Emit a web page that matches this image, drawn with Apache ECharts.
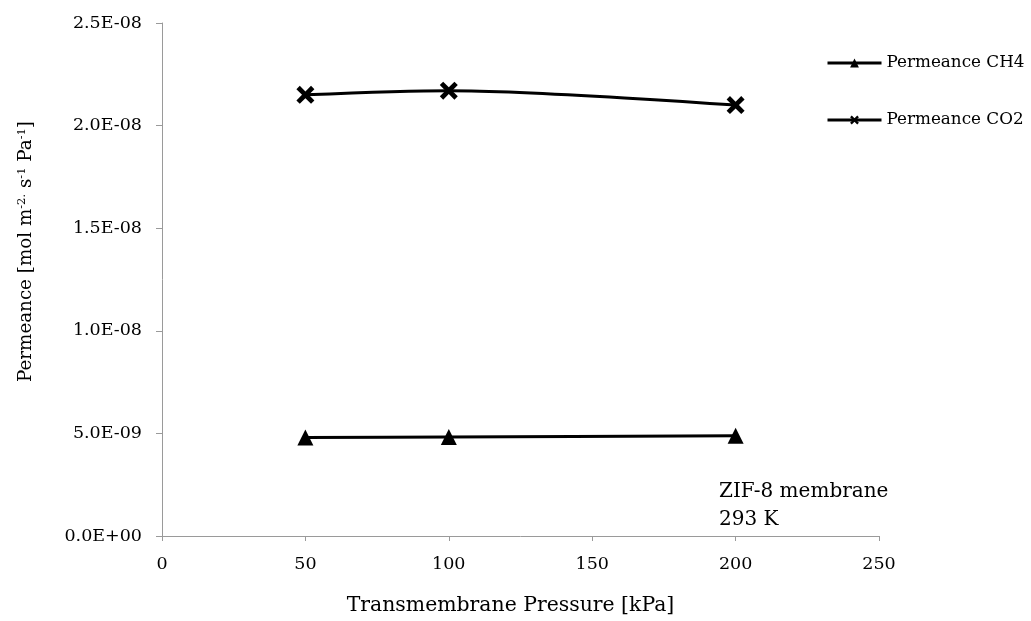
<!DOCTYPE html>
<html>
<head>
<meta charset="utf-8">
<script src="https://cdn.jsdelivr.net/npm/echarts@6/dist/echarts.min.js"></script>
<style>
  html, body { margin: 0; padding: 0; background: #fff; }
  #chart { width: 1031px; height: 621px; }
</style>
</head>
<body>
<div id="chart"></div>
<script>
// Transmembrane pressure (kPa) and measured permeances (mol m-2 s-1 Pa-1)
const pressures = [50, 100, 200];
const permeanceCH4 = [4.80e-9, 4.82e-9, 4.88e-9];
const permeanceCO2 = [2.15e-8, 2.17e-8, 2.10e-8];
const seriesNames = ['Permeance CH4', 'Permeance CO2'];

const FONT = 'DejaVu Serif';
const crossPath = 'path://M0,3 L3,0 L8,5 L13,0 L16,3 L11,8 L16,13 L13,16 L8,11 L3,16 L0,13 L5,8 Z';

// Excel-like scientific tick labels, e.g. 2.5E-08
function sciLabel(v) {
  const s = Number(v).toExponential(1);
  const parts = s.split('e');
  const exp = parseInt(parts[1], 10);
  const sign = exp < 0 ? '-' : '+';
  return parts[0] + 'E' + sign + String(Math.abs(exp)).padStart(2, '0');
}

const chart = echarts.init(document.getElementById('chart'), null, { renderer: 'canvas' });

const axisLineStyle = { color: '#9a9a9a', width: 1 };

chart.setOption({
  backgroundColor: '#ffffff',
  animation: false,
  textStyle: { fontFamily: FONT, color: '#000' },
  grid: { left: 162, right: 152, top: 23, bottom: 84.5, containLabel: false },
  legend: {
    orient: 'vertical',
    left: 826,
    top: 53,
    padding: 0,
    itemWidth: 54,
    itemHeight: 11,
    itemGap: 37,
    data: seriesNames,
    lineStyle: { width: 3, color: '#000' },
    textStyle: { fontFamily: FONT, fontSize: 16.8, color: '#000', lineHeight: 20 }
  },
  xAxis: {
    type: 'value',
    min: 0,
    max: 250,
    interval: 50,
    name: 'Transmembrane Pressure [kPa]',
    nameLocation: 'middle',
    nameGap: 60,
    nameTextStyle: { fontFamily: FONT, fontSize: 20.4, color: '#000', padding: [0, 20, 0, 0] },
    axisLine: { show: true, lineStyle: axisLineStyle },
    axisTick: { show: true, length: 5, inside: false, lineStyle: axisLineStyle },
    axisLabel: { fontFamily: FONT, fontSize: 17.5, color: '#000', margin: 19 },
    splitLine: { show: false }
  },
  yAxis: {
    type: 'value',
    min: 0,
    max: 2.5e-8,
    interval: 5e-9,
    name: '{a|Permeance [mol m}{s|-2.}{a| s}{s|-1}{a| Pa}{s|-1}{a|]}',
    nameLocation: 'middle',
    nameRotate: 90,
    nameGap: 125,
    nameTextStyle: {
      padding: [0, 0, 0, 56],
      rich: {
        a: { fontFamily: FONT, fontSize: 18.3, color: '#000', lineHeight: 22 },
        s: { fontFamily: FONT, fontSize: 11.5, color: '#000', lineHeight: 22, padding: [0, 0, 8, 0] }
      }
    },
    axisLine: { show: true, lineStyle: axisLineStyle },
    axisTick: { show: true, length: 6, inside: false, lineStyle: axisLineStyle },
    axisLabel: { fontFamily: FONT, fontSize: 17.5, color: '#000', margin: 20, formatter: sciLabel },
    splitLine: { show: false }
  },
  graphic: [
    {
      type: 'text',
      left: 719,
      top: 478,
      style: {
        text: 'ZIF-8 membrane\n293 K',
        fontFamily: FONT,
        fontSize: 20,
        lineHeight: 28,
        fill: '#000'
      }
    }
  ],
  series: [
    {
      name: seriesNames[0],
      type: 'line',
      data: pressures.map((p, i) => [p, permeanceCH4[i]]),
      symbol: 'triangle',
      symbolSize: 16,
      smooth: 0.3,
      lineStyle: { color: '#000', width: 3 },
      itemStyle: { color: '#000' }
    },
    {
      name: seriesNames[1],
      type: 'line',
      data: pressures.map((p, i) => [p, permeanceCO2[i]]),
      symbol: crossPath,
      symbolSize: 18,
      smooth: 0.3,
      lineStyle: { color: '#000', width: 3 },
      itemStyle: { color: '#000' }
    }
  ]
});
</script>
</body>
</html>
